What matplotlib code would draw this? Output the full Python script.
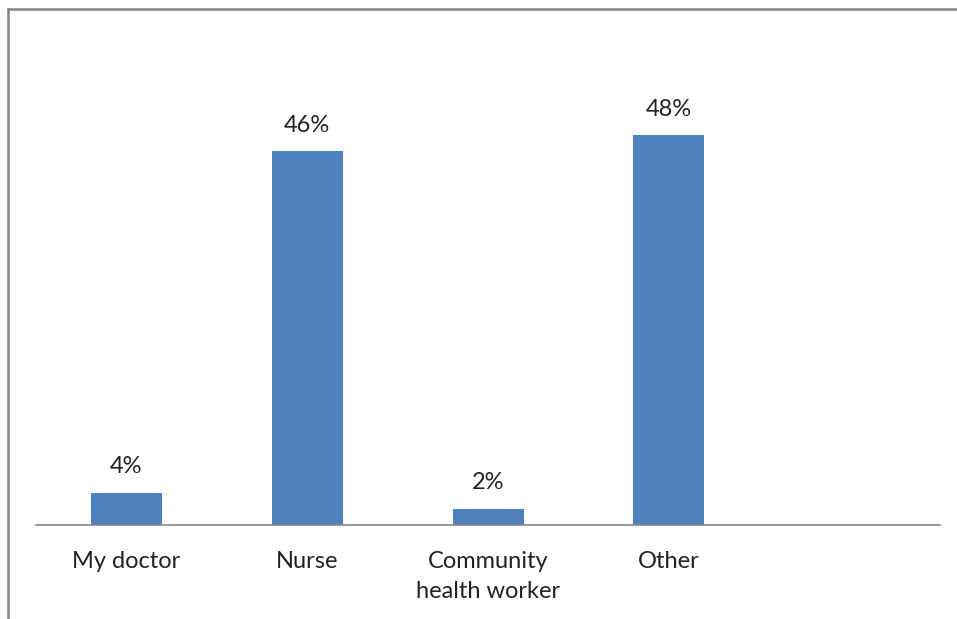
import matplotlib
matplotlib.use("Agg")
import matplotlib.pyplot as plt
from matplotlib.lines import Line2D

categories = ["My doctor", "Nurse", "Community\nhealth worker", "Other", ""]
values = [4, 46, 2, 48, None]
bar_color = "#4F81BD"

plt.rcParams['font.family'] = ['Lato', 'DejaVu Sans']

fig = plt.figure(figsize=(9.57, 6.19), dpi=100)
W, H = 957, 619
ax = fig.add_axes([36 / W, (H - 525) / H, (940 - 36) / W, (525 - 37.5) / H])

x = list(range(len(categories)))
vals = [v if v is not None else 0 for v in values]
bars = ax.bar(x, vals, width=71 / 180.8, color=bar_color)
for xi, v in zip(x, values):
    if v is None:
        continue
    ax.annotate(f"{v}%", (xi, v), xytext=(0, 11), textcoords="offset points",
                ha="center", va="bottom", fontsize=17, color="#222222")

ax.set_xlim(-0.5, len(categories) - 0.5)
ax.set_ylim(0, 60)
ax.set_xticks(x)
ax.set_xticklabels(categories, fontsize=17, color="#222222", linespacing=1.5)
ax.tick_params(axis="x", length=0, pad=19)
ax.set_yticks([])
for s in ["top", "right", "left"]:
    ax.spines[s].set_visible(False)
ax.spines["bottom"].set_color("#888888")
ax.spines["bottom"].set_linewidth(1.2)

# outer chart frame (left and top edges visible)
fig.add_artist(Line2D([8 / W, 8 / W], [0, (H - 8.5) / H], color="#858585", lw=1.8, transform=fig.transFigure))
fig.add_artist(Line2D([8 / W, 1], [(H - 8.5) / H, (H - 8.5) / H], color="#858585", lw=1.8, transform=fig.transFigure))

fig.savefig("out.png", dpi=100)
